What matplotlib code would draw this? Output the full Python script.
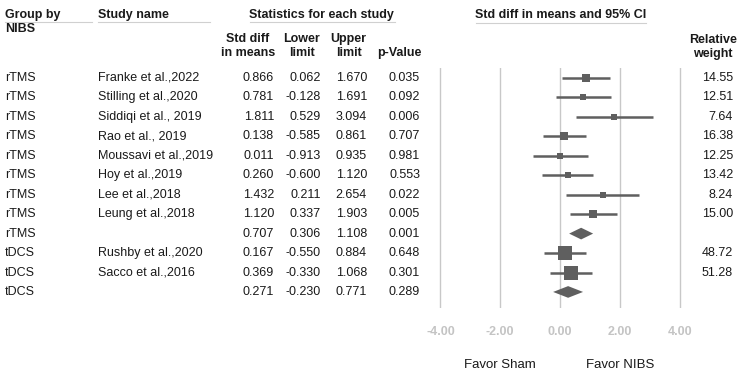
import numpy as np
import matplotlib
matplotlib.use('Agg')
import matplotlib.pyplot as plt
from matplotlib.patches import Polygon
from matplotlib.transforms import blended_transform_factory

plt.rcParams['font.family'] = ['Liberation Sans', 'DejaVu Sans']

# data
groups = ['rTMS'] * 9 + ['tDCS'] * 3
studies = ['Franke et al.,2022', 'Stilling et al.,2020', 'Siddiqi et al., 2019',
           'Rao et al., 2019', 'Moussavi et al.,2019', 'Hoy et al.,2019',
           'Lee et al.,2018', 'Leung et al.,2018', '',
           'Rushby et al.,2020', 'Sacco et al.,2016', '']
std_diff = [0.866, 0.781, 1.811, 0.138, 0.011, 0.260, 1.432, 1.120, 0.707,
            0.167, 0.369, 0.271]
lower = [0.062, -0.128, 0.529, -0.585, -0.913, -0.600, 0.211, 0.337, 0.306,
         -0.550, -0.330, -0.230]
upper = [1.670, 1.691, 3.094, 0.861, 0.935, 1.120, 2.654, 1.903, 1.108,
         0.884, 1.068, 0.771]
p_values = [0.035, 0.092, 0.006, 0.707, 0.981, 0.553, 0.022, 0.005, 0.001,
            0.648, 0.301, 0.289]
rel_weight = [14.55, 12.51, 7.64, 16.38, 12.25, 13.42, 8.24, 15.00, None,
              48.72, 51.28, None]
x_ticks = [-4, -2, 0, 2, 4]

W, H = 742, 377
fig = plt.figure(figsize=(W / 100, H / 100), dpi=100)

# background axes in pixel coordinates for the table part
bg = fig.add_axes([0, 0, 1, 1])
bg.set_xlim(0, W)
bg.set_ylim(H, 0)
bg.axis('off')

# forest plot axes
row0, step = 78, 19.45
top_px, bot_px = 68, 308
x0_px, unit = 560, 29.9
xmin, xmax = -4.1, 4.1
left = (x0_px + xmin * unit) / W
width = (xmax - xmin) * unit / W
ax = fig.add_axes([left, 1 - bot_px / H, width, (bot_px - top_px) / H])
ax.set_xlim(xmin, xmax)
ax.set_ylim((bot_px - row0) / step, (top_px - row0) / step)
for s in ax.spines.values():
    s.set_visible(False)
ax.set_yticks([])
ax.set_xticks(x_ticks)
ax.set_xticklabels(['%.2f' % t for t in x_ticks], fontsize=9, fontweight='bold',
                   color='#c4c4c4')
ax.tick_params(axis='x', length=0, pad=13)
ax.grid(axis='x', color='#c8c8c8', lw=1)
ax.set_axisbelow(True)

mark = '#5f5f5f'
txt = '#1a1a1a'
for i in range(len(groups)):
    if rel_weight[i] is None:
        h = 0.3
        diamond = Polygon([(lower[i], i), (std_diff[i], i - h), (upper[i], i),
                           (std_diff[i], i + h)], closed=True, color=mark, lw=0)
        ax.add_patch(diamond)
    else:
        ax.plot([lower[i], upper[i]], [i, i], color=mark, lw=1.8,
                solid_capstyle='butt')
        side = 1.9 * np.sqrt(rel_weight[i]) * 0.72
        ax.plot(std_diff[i], i, marker='s', ms=side, color=mark, mec=mark, mew=0)

# table text: x in pixels, y in row units
tr = blended_transform_factory(bg.transData, ax.transData)
fs = 9
for i in range(len(groups)):
    bg.text(5, i, groups[i], transform=tr, fontsize=fs, va='center', color=txt)
    bg.text(98, i, studies[i], transform=tr, fontsize=fs, va='center', color=txt)
    bg.text(274, i, '%.3f' % std_diff[i], transform=tr, fontsize=fs, va='center',
            ha='right', color=txt)
    bg.text(321, i, '%.3f' % lower[i], transform=tr, fontsize=fs, va='center',
            ha='right', color=txt)
    bg.text(367, i, '%.3f' % upper[i], transform=tr, fontsize=fs, va='center',
            ha='right', color=txt)
    bg.text(420, i, '%.3f' % p_values[i], transform=tr, fontsize=fs, va='center',
            ha='right', color=txt)
    if rel_weight[i] is not None:
        bg.text(733, i, '%.2f' % rel_weight[i], transform=tr, fontsize=fs,
                va='center', ha='right', color=txt)

# headers
hd = dict(fontsize=fs, fontweight='bold', color=txt, va='center')
bg.text(5, 15, 'Group by', **hd)
bg.text(5, 29, 'NIBS', **hd)
bg.text(98, 15, 'Study name', **hd)
bg.text(321, 15, 'Statistics for each study', ha='center', **hd)
bg.text(561, 15, 'Std diff in means and 95% CI', ha='center', **hd)
bg.text(248, 39, 'Std diff', ha='center', **hd)
bg.text(248, 53, 'in means', ha='center', **hd)
bg.text(301, 39, 'Lower', ha='center', **hd)
bg.text(302, 53, 'limit', ha='center', **hd)
bg.text(348, 39, 'Upper', ha='center', **hd)
bg.text(349, 53, 'limit', ha='center', **hd)
bg.text(399, 53, 'p-Value', ha='center', **hd)
bg.text(713, 40, 'Relative', ha='center', **hd)
bg.text(713, 54, 'weight', ha='center', **hd)

# header underlines
ul = '#d0d0d0'
bg.plot([5, 92], [22, 22], color=ul, lw=0.8)
bg.plot([98, 210], [22, 22], color=ul, lw=0.8)
bg.plot([250, 395], [22, 22], color=ul, lw=0.8)
bg.plot([476, 646], [23, 23], color=ul, lw=0.8)

bg.text(500, 365, 'Favor Sham', ha='center', va='center', fontsize=9.5, color=txt)
bg.text(620, 365, 'Favor NIBS', ha='center', va='center', fontsize=9.5, color=txt)

fig.savefig('out.png', dpi=100)
